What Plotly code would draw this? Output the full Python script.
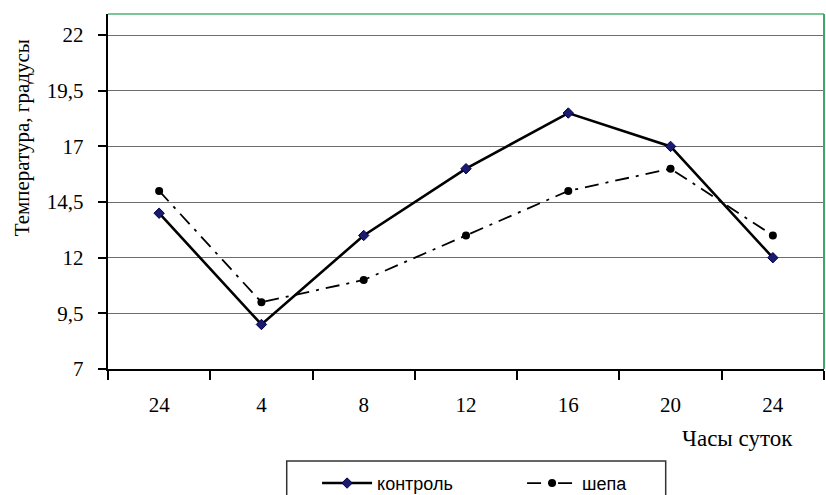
import plotly.graph_objects as go

# Hours of the day (the cycle wraps back to 24 at the end)
hours = ["24", "4", "8", "12", "16", "20", "24"]
control = [14, 9, 13, 16, 18.5, 17, 12]
shepa = [15, 10, 11, 13, 15, 16, 13]
y_ticks = [7, 9.5, 12, 14.5, 17, 19.5, 22]
y_tick_text = ["7", "9,5", "12", "14,5", "17", "19,5", "22"]

pos = list(range(len(hours)))

fig = go.Figure()
fig.add_trace(go.Scatter(
    x=pos, y=control, name="контроль", mode="lines+markers",
    line=dict(color="black", width=2.6),
    marker=dict(symbol="diamond", size=8, color="#1a1a6e",
                line=dict(color="#000050", width=1)),
))
fig.add_trace(go.Scatter(
    x=pos, y=shepa, name="шепа", mode="lines+markers",
    line=dict(color="black", width=1.8, dash="14px,7px,3px,7px"),
    marker=dict(symbol="circle", size=8, color="black"),
))

serif = "Liberation Serif, Times New Roman, serif"

fig.update_layout(
    width=826, height=495,
    margin=dict(l=108, r=2, t=14, b=126, autoexpand=False),
    plot_bgcolor="white", paper_bgcolor="white",
    showlegend=True,
    legend=dict(
        orientation="h", x=0.292, y=-0.27, xanchor="left", yanchor="top",
        borderwidth=0, bgcolor="rgba(0,0,0,0)",
        font=dict(family="Liberation Sans, Arial, sans-serif", size=18, color="black"),
        entrywidth=140, entrywidthmode="pixels",
        itemwidth=50,
    ),
    xaxis=dict(
        range=[-0.5, len(hours) - 0.5],
        tickvals=pos, ticktext=hours, ticks="",
        ticklabelstandoff=16, automargin=False,
        tickfont=dict(family=serif, size=21, color="black"),
        showgrid=False, zeroline=False,
        showline=True, linecolor="black", linewidth=2,
        minor=dict(tickvals=[p - 0.5 for p in pos] + [len(hours) - 0.5],
                   ticks="outside", ticklen=9, tickwidth=2, tickcolor="black",
                   showgrid=False),
    ),
    yaxis=dict(
        range=[7, 22.95],
        tickvals=y_ticks, ticktext=y_tick_text,
        ticks="outside", ticklen=8, tickwidth=2, tickcolor="black",
        ticklabelstandoff=10, automargin=False,
        tickfont=dict(family=serif, size=21, color="black"),
        showgrid=True, gridcolor="#6e6e6e", gridwidth=1.3,
        zeroline=False,
        showline=True, linecolor="black", linewidth=2.4,
    ),
    shapes=[
        dict(type="line", xref="paper", yref="paper", x0=0, x1=1, y0=1, y1=1,
             line=dict(color="#7cc49a", width=2)),
        dict(type="line", xref="paper", yref="paper", x0=1, x1=1, y0=0, y1=1,
             line=dict(color="#3aa866", width=2)),
        # legend frame
        dict(type="rect", xref="paper", yref="paper",
             x0=0.2496, x1=0.7789, y0=-0.259, y1=-0.38,
             line=dict(color="#333", width=1.5), fillcolor="rgba(0,0,0,0)"),
    ],
    annotations=[
        dict(text="Температура, градусы", textangle=-90,
             xref="paper", yref="paper", x=-0.12, y=0.65,
             xanchor="center", yanchor="middle", showarrow=False,
             font=dict(family=serif, size=21, color="black")),
        dict(text="Часы суток", xref="paper", yref="paper",
             x=0.96, y=-0.195, xanchor="right", yanchor="middle",
             showarrow=False,
             font=dict(family=serif, size=23, color="black")),
    ],
)

fig.write_html("out.html")
